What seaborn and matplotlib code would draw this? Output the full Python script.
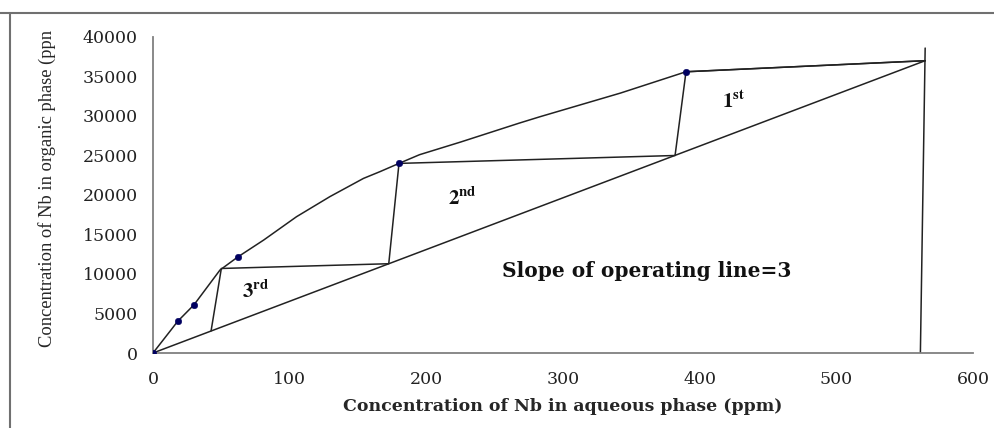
import matplotlib
matplotlib.use("Agg")
import matplotlib.pyplot as plt
import seaborn as sns
from matplotlib.lines import Line2D

# Equilibrium data points (aqueous ppm, organic ppm)
eq_x = [0, 18, 30, 62, 180, 390]
eq_y = [0, 4000, 6100, 12200, 24000, 35600]

# Equilibrium curve as traced through the points
curve_x = [0, 14, 18, 30, 49, 62, 81, 105, 129.5, 154, 166, 180, 195, 225, 268, 283, 342, 390, 565]
curve_y = [0, 3100, 4000, 6100, 10500, 12150, 14300, 17250, 19800, 22100, 22950, 24000,
           25100, 26700, 29100, 29900, 32900, 35600, 37000]

# Operating line
op_x = [0, 565]
op_y = [0, 37000]

# Stage construction
step_x = [565, 390, 382, 180, 172.5, 50, 42.5]
step_y = [37000, 35600, 25000, 24000, 11300, 10700, 2800]

# Vertical feed line
feed_x = [561.5, 565]
feed_y = [0, 38600]

sns.set_theme(style="white")
plt.rcParams["font.family"] = ["Liberation Serif", "DejaVu Serif"]
plt.rcParams["mathtext.fontset"] = "stix"

fig = plt.figure(figsize=(9.95, 4.28), dpi=100)
ax = fig.add_axes([153 / 995, 1 - 353 / 428, 820 / 995, 316 / 428])

line_kw = dict(color="#222222", linewidth=1.1, sort=False, estimator=None, ax=ax)
sns.lineplot(x=curve_x, y=curve_y, **line_kw)
sns.lineplot(x=op_x, y=op_y, **line_kw)
sns.lineplot(x=step_x, y=step_y, **line_kw)
sns.lineplot(x=feed_x, y=feed_y, **line_kw)
sns.scatterplot(x=eq_x, y=eq_y, color="#000060", s=22, marker="o",
                edgecolor="#000060", ax=ax, zorder=5)

ax.set_xlim(0, 600)
ax.set_ylim(0, 40000)
ax.set_xticks(range(0, 601, 100))
ax.set_yticks(range(0, 40001, 5000))

for side in ["top", "right"]:
    ax.spines[side].set_visible(False)
for side in ["left", "bottom"]:
    ax.spines[side].set_color("#808080")
    ax.spines[side].set_linewidth(1.3)

ax.tick_params(axis="both", direction="out", length=5, width=1.2, color="#808080",
               labelcolor="#222222", labelsize=12.5, labelfontfamily="DejaVu Serif")
ax.tick_params(axis="y", pad=6)
ax.tick_params(axis="x", pad=8)

ax.set_xlabel("Concentration of Nb in aqueous phase (ppm)", fontsize=12.5,
              fontweight="bold", family="DejaVu Serif", labelpad=7)
ax.set_ylabel("Concentration of Nb in organic phase (ppn", fontsize=13.3)
ax.yaxis.set_label_coords(-0.118, 0.522)

txt_kw = dict(fontsize=15, color="#111111")
ax.text(416, 31000, r"$\mathbf{1^{st}}$", va="baseline", **txt_kw)
ax.text(216, 18700, r"$\mathbf{2^{nd}}$", va="baseline", **txt_kw)
ax.text(65, 7000, r"$\mathbf{3^{rd}}$", va="baseline", **txt_kw)
ax.text(255, 9600, "Slope of operating line=3", fontsize=14.5, fontweight="bold",
        family="DejaVu Serif", color="#111111", va="baseline")

# Frame around the picture (top and left edges visible)
fig.add_artist(Line2D([0, 1], [1 - 12.7 / 428] * 2, color="#707070", linewidth=1.5))
fig.add_artist(Line2D([9.5 / 995] * 2, [0, 1 - 12.7 / 428], color="#707070", linewidth=1.5))

fig.savefig("out.png", dpi=100)
